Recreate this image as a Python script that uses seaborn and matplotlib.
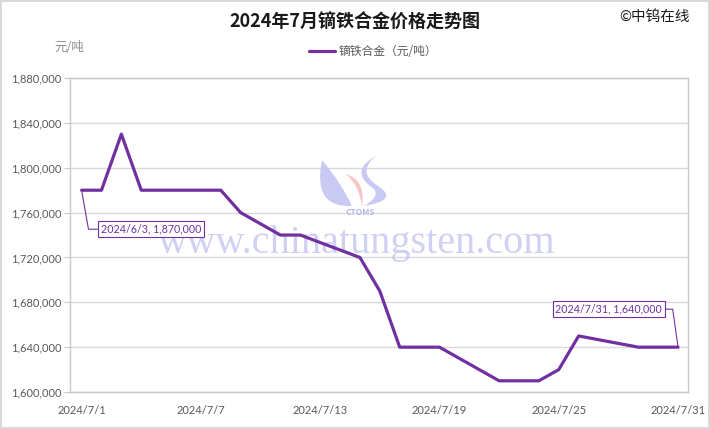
import numpy as np
import pandas as pd
import matplotlib.pyplot as plt
from matplotlib.path import Path
from matplotlib.patches import PathPatch
import seaborn as sns

# weekday quotes, July 2024
dates = ["2024-07-01", "2024-07-02", "2024-07-03", "2024-07-04", "2024-07-05",
         "2024-07-08", "2024-07-09", "2024-07-10", "2024-07-11", "2024-07-12",
         "2024-07-15", "2024-07-16", "2024-07-17", "2024-07-18", "2024-07-19",
         "2024-07-22", "2024-07-23", "2024-07-24", "2024-07-25", "2024-07-26",
         "2024-07-29", "2024-07-30", "2024-07-31"]
prices = [1780000, 1780000, 1830000, 1780000, 1780000,
          1780000, 1760000, 1750000, 1740000, 1740000,
          1720000, 1690000, 1640000, 1640000, 1640000,
          1610000, 1610000, 1610000, 1620000, 1650000,
          1640000, 1640000, 1640000]
tick_dates = ["2024-07-01", "2024-07-07", "2024-07-13", "2024-07-19", "2024-07-25", "2024-07-31"]
series_name = "镝铁合金（元/吨）"

PURPLE = "#7030A0"
GREY = "#595959"

df = pd.DataFrame({"date": pd.to_datetime(dates), "price": prices})

sns.set_style("white")
plt.rcParams['font.family'] = ['Noto Sans CJK SC', 'DejaVu Sans']

fig = plt.figure(figsize=(7.1, 4.29), dpi=100)
fig.patch.set_edgecolor("#d9d9d9")
fig.patch.set_linewidth(1.5)
ax = fig.add_axes([0.0986, 0.0862, 0.8704, 0.7318])

sns.lineplot(data=df, x="date", y="price", ax=ax, color=PURPLE, linewidth=2.3,
             label=series_name, legend=False, zorder=3)

ax.set_ylim(1600000, 1880000)
ax.set_yticks(np.arange(1600000, 1880001, 40000))
ax.yaxis.set_major_formatter(plt.FuncFormatter(lambda v, p: f"{int(v):,}"))
start = pd.Timestamp("2024-07-01")
ax.set_xlim(start - pd.Timedelta(hours=14), pd.Timestamp("2024-07-31") + pd.Timedelta(hours=12))
ticks = pd.to_datetime(tick_dates)
ax.set_xticks(ticks)
ax.set_xticklabels([f"{d.year}/{d.month}/{d.day}" for d in ticks])
ax.set_xlabel("")
ax.set_ylabel("")
ax.grid(axis="y", color="#d9d9d9", linewidth=1)
ax.set_axisbelow(True)
for s in ax.spines.values():
    s.set_color("#c8c8c8")
    s.set_linewidth(1)
ax.tick_params(axis="y", left=True, length=4, color="#c8c8c8", labelsize=8, labelcolor=GREY, pad=2)
ax.tick_params(axis="x", bottom=False, labelsize=8, labelcolor=GREY, pad=6)
for lab in ax.get_xticklabels() + ax.get_yticklabels():
    lab.set_family(["Lato", "DejaVu Sans"])

# titles and legend
fig.text(0.5, 0.948, "2024年7月镝铁合金价格走势图", ha="center", va="center",
         fontsize=13, fontweight="bold", color="#1a1a1a")
fig.text(0.972, 0.96, "©中钨在线", ha="right", va="center", fontsize=10.5, color="#1a1a1a")
fig.text(0.077, 0.89, "元/吨", ha="left", va="center", fontsize=9, color="#8c8c8c")
ax.legend(loc="lower center", bbox_to_anchor=(0.49, 1.03), frameon=False, fontsize=8.5,
          handlelength=2.2, handletextpad=0.3, labelcolor=GREY)

# watermark text and logo, under the line
ax.text(0.502, 0.433, "www.chinatungsten.com", ha="center", va="center", transform=fig.transFigure,
        fontsize=29, family="Liberation Serif", color="#c8c8f0", alpha=0.85, zorder=1)
ax.text(0.508, 0.505, "CTOMS", ha="center", va="center", transform=fig.transFigure,
        fontsize=6, fontweight="bold", style="italic", color="#b8b8ee", zorder=1)


def px(x, y):
    return (x / 710, 1 - y / 429)


C3 = Path.CURVE3
logo = [
    ([(322, 160), (312, 208), (352, 206), (342, 184), (322, 160), (322, 160)], "#c4c4f2"),
    ([(376, 156), (356, 172), (378, 186), (400, 200), (364, 206),
      (384, 194), (370, 186), (350, 170), (376, 156), (376, 156)], "#c4c4f2"),
    ([(346, 174), (366, 180), (362, 207), (360, 186), (346, 174), (346, 174)], "#f6c0c0"),
]
for pts, col in logo:
    codes = [Path.MOVETO] + [C3] * (len(pts) - 2) + [Path.CLOSEPOLY]
    ax.add_patch(PathPatch(Path([px(*p) for p in pts], codes), transform=fig.transFigure,
                           fc=col, ec="none", alpha=0.9, zorder=1))

# data labels
box = dict(boxstyle="square,pad=0.25", fc="white", ec=PURPLE, lw=0.8)
ax.annotate("2024/6/3, 1,870,000", xy=(df["date"].iloc[0], prices[0]),
            xytext=(19, -39), textcoords="offset pixels", ha="left", va="center",
            fontsize=7.7, color=PURPLE, family=["Lato", "DejaVu Sans"], bbox=box, zorder=4,
            arrowprops=dict(arrowstyle="-", color=PURPLE, lw=0.8,
                            connectionstyle="angle,angleA=180,angleB=-80", shrinkA=0, shrinkB=0))
ax.annotate("2024/7/31, 1,640,000", xy=(df["date"].iloc[-1], prices[-1]),
            xytext=(-16, 38), textcoords="offset pixels", ha="right", va="center",
            fontsize=7.7, color=PURPLE, family=["Lato", "DejaVu Sans"], bbox=box, zorder=4,
            arrowprops=dict(arrowstyle="-", color=PURPLE, lw=0.8,
                            connectionstyle="angle,angleA=0,angleB=98", shrinkA=0, shrinkB=0))

fig.savefig("out.png", dpi=100)
